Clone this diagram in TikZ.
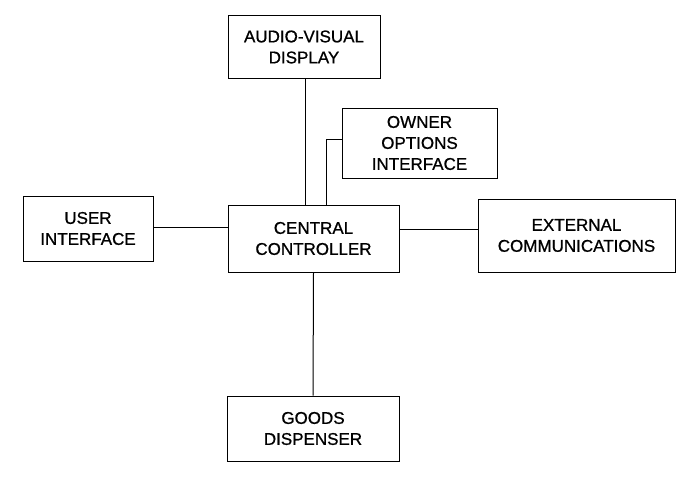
\documentclass[tikz,border=0pt]{standalone}
\usepackage{fontspec}
\setmainfont{Liberation Sans}[FakeBold=0.8]
\usetikzlibrary{positioning}

\begin{document}
\begin{tikzpicture}[x=1pt, y=1pt,
    block/.style={draw, line width=1pt, align=center, inner sep=2pt,
                  font=\fontsize{17}{21}\selectfont},
    wire/.style={line width=1pt},
]
  \useasboundingbox (0,0) rectangle (693,-495);

  \node[block, minimum width=152pt, minimum height=62pt] (av)   at (304,-47)    {AUDIO-VISUAL\\DISPLAY};
  \node[block, minimum width=155pt, minimum height=70pt] (own)  at (419.5,-143) {OWNER\\OPTIONS\\INTERFACE};
  \node[block, minimum width=130pt, minimum height=65pt] (ui)   at (88,-228.5)  {USER\\INTERFACE};
  \node[block, minimum width=171pt, minimum height=67pt] (ctrl) at (313.5,-238.5) {CENTRAL\\CONTROLLER};
  \node[block, minimum width=197pt, minimum height=73pt] (ext)  at (576.5,-235.5) {EXTERNAL\\COMMUNICATIONS};
  \node[block, minimum width=172pt, minimum height=65pt] (gd)   at (313,-428.5) {GOODS\\DISPENSER};

  \draw[wire] ([xshift=1pt]av.south) -- ([xshift=1pt]av.south |- ctrl.north);
  \draw[wire] ([xshift=12.5pt]ctrl.north) |- ([yshift=4pt]own.west);
  \draw[wire] ([yshift=1.5pt]ui.east) -- ([yshift=1.5pt]ui.east -| ctrl.west);
  \draw[wire] ([yshift=6.5pt]ext.west) -- ([yshift=6.5pt]ext.west -| ctrl.east);
  \draw[wire] (ctrl.south) -- (gd.north);
\end{tikzpicture}
\end{document}
